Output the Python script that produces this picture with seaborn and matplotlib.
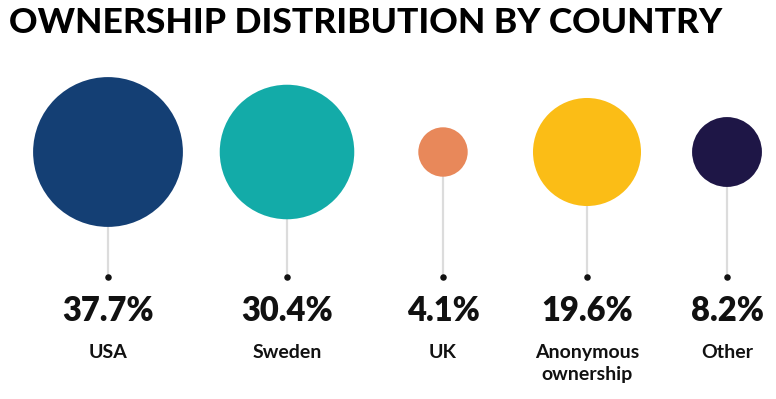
import numpy as np
import matplotlib.pyplot as plt
import seaborn as sns
import pandas as pd

sns.set_style("white")
plt.rcParams['font.family'] = ['Lato', 'DejaVu Sans']

# data
labels = ["USA", "Sweden", "UK", "Anonymous\nownership", "Other"]
shares = [37.7, 30.4, 4.1, 19.6, 8.2]
colors = ["#143F74", "#13ABA8", "#E8885A", "#FBBD16", "#1E1646"]

# layout (pixel coords)
x_pos = [108, 287, 443, 587, 727]
circle_y = 152
dot_y = 277
pct_y = 311
label_y = 344

W, H = 776, 399
fig = plt.figure(figsize=(W / 100, H / 100), dpi=100)
ax = fig.add_axes([0, 0, 1, 1])
ax.set_xlim(0, W)
ax.set_ylim(H, 0)
ax.axis("off")

df = pd.DataFrame({"label": labels, "share": shares, "x": x_pos})
df["cy"] = circle_y
df["dy"] = dot_y

# area proportional to share: r(px) = 12.2 * sqrt(share)
k = (2 * 0.72 * 12.2) ** 2
size_map = {l: k * s for l, s in zip(labels, shares)}

# stems
for _, row in df.iterrows():
    ax.plot([row["x"], row["x"]], [row["cy"], row["dy"]], color="#dcdcdc", lw=1.6, zorder=1)

sns.scatterplot(data=df, x="x", y="cy", hue="label", size="label",
                palette=dict(zip(labels, colors)), sizes=size_map,
                linewidth=0, legend=False, ax=ax, zorder=2)
sns.scatterplot(data=df, x="x", y="dy", color="#111111", s=22,
                linewidth=0, legend=False, ax=ax, zorder=3)

for _, row in df.iterrows():
    ax.text(row["x"], pct_y, f"{row['share']:.1f}%", ha="center", va="center",
            fontsize=23.5, fontweight="heavy", color="#111111")
    ax.text(row["x"], label_y, row["label"], ha="center", va="top",
            fontsize=14, fontweight="bold", color="#111111", linespacing=1.35)

ax.text(9, 23, "OWNERSHIP DISTRIBUTION BY COUNTRY", ha="left", va="center",
        fontsize=25.5, fontweight="black", color="#000000")

fig.savefig("out.png", dpi=100)
